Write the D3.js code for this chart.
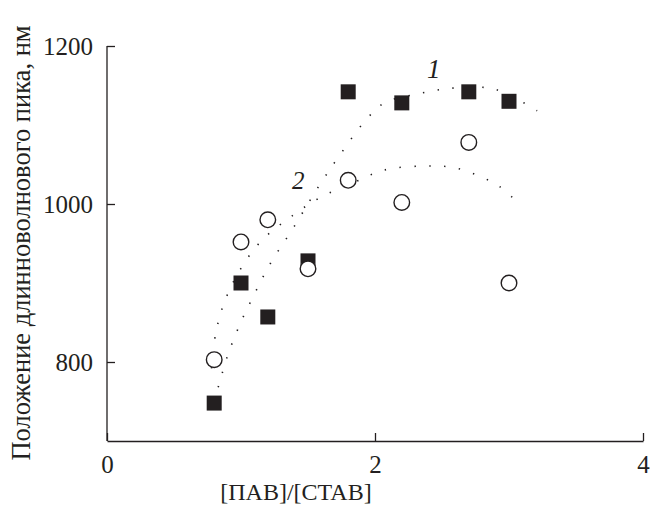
<!DOCTYPE html>
<html lang="ru"><head><meta charset="utf-8">
<title>Положение пика</title>
<script src="https://cdnjs.cloudflare.com/ajax/libs/d3/7.8.5/d3.min.js"></script>
<style>
  body { margin: 0; background: #fff; }
  .chart text { font-family: "Liberation Serif", "Times New Roman", serif; fill: #231f20; }
  .axis path, .axis line { stroke: #231f20; stroke-width: 1.3; }
  .fit { fill: none; stroke: #231f20; stroke-width: 1.6; stroke-dasharray: 1.4 13.5; stroke-linecap: butt; }
</style>
</head>
<body>
<svg class="chart" width="650" height="506"></svg>
<script>
// measured points
var ratio = [0.8, 1.0, 1.2, 1.5, 1.8, 2.2, 2.7, 3.0];
var peak1 = [748, 900, 857, 928, 1142, 1128, 1142, 1130];   // squares
var peak2 = [803, 952, 980, 918, 1030, 1002, 1078, 900];    // circles

// dotted guide curves
var fit1X = [0.83, 0.90, 0.99, 1.10, 1.22, 1.38, 1.59, 1.75, 1.92, 2.07, 2.31, 2.54, 2.76, 2.90, 3.09, 3.21];
var fit1Y = [768, 808, 847, 886, 925, 967, 1025, 1065, 1104, 1128, 1139, 1146, 1148, 1145, 1130, 1118];
var fit2X = [0.78, 0.81, 0.87, 0.98, 1.15, 1.39, 1.60, 1.84, 2.07, 2.36, 2.59, 2.81, 2.93, 3.04];
var fit2Y = [792, 835, 873, 913, 953, 986, 1009, 1027, 1043, 1048, 1046, 1033, 1022, 1006];

var xTicks = [0, 2, 4];
var yTicks = [800, 1000, 1200];

var svg = d3.select('.chart');
var x = d3.scaleLinear().domain([0, 4]).range([107, 643]);
var y = d3.scaleLinear().domain([700, 1200]).range([441, 46]);

svg.append('g')
  .attr('class', 'axis')
  .attr('transform', 'translate(0,441)')
  .call(d3.axisBottom(x).tickValues(xTicks).tickFormat(d3.format('d'))
    .tickSizeInner(-8).tickSizeOuter(0).tickPadding(14));

svg.append('g')
  .attr('class', 'axis')
  .attr('transform', 'translate(107,0)')
  .call(d3.axisLeft(y).tickValues(yTicks).tickFormat(d3.format('d'))
    .tickSizeInner(-8).tickSizeOuter(0).tickPadding(14))
  .call(function(g) { g.select('.domain').attr('d', 'M0,' + y(700) + 'V' + y(1200)); });

svg.selectAll('.axis').attr('font-family', null).attr('font-size', null);
svg.selectAll('.axis text').attr('font-size', 25);

var line = d3.line().curve(d3.curveCatmullRom)
  .x(function(d) { return x(d[0]); })
  .y(function(d) { return y(d[1]); });

svg.append('path').attr('class', 'fit').attr('d', line(d3.zip(fit1X, fit1Y)));
svg.append('path').attr('class', 'fit').attr('d', line(d3.zip(fit2X, fit2Y)));

var sq = 15;
svg.selectAll('.sq')
  .data(d3.zip(ratio, peak1))
  .enter().append('rect')
  .attr('class', 'sq')
  .attr('x', function(d) { return x(d[0]) - sq / 2; })
  .attr('y', function(d) { return y(d[1]) - sq / 2; })
  .attr('width', sq)
  .attr('height', sq)
  .attr('fill', '#231f20');

svg.selectAll('.circ')
  .data(d3.zip(ratio, peak2))
  .enter().append('circle')
  .attr('class', 'circ')
  .attr('cx', function(d) { return x(d[0]); })
  .attr('cy', function(d) { return y(d[1]); })
  .attr('r', 7.8)
  .attr('fill', '#fff')
  .attr('stroke', '#231f20')
  .attr('stroke-width', 1.4);

// curve labels
svg.append('text')
  .attr('x', 427).attr('y', 78)
  .attr('font-size', 27).attr('font-style', 'italic')
  .text('1');
svg.append('text')
  .attr('x', 292).attr('y', 189)
  .attr('font-size', 25).attr('font-style', 'italic')
  .text('2');

// axis titles
svg.append('text')
  .attr('x', 296).attr('y', 500)
  .attr('text-anchor', 'middle')
  .attr('font-size', 24)
  .text('[ПАВ]/[CTAB]');

svg.append('text')
  .attr('transform', 'translate(30,243) rotate(-90)')
  .attr('text-anchor', 'middle')
  .attr('font-size', 26.5)
  .text('Положение длинноволнового пика, нм');
</script>
</body></html>
